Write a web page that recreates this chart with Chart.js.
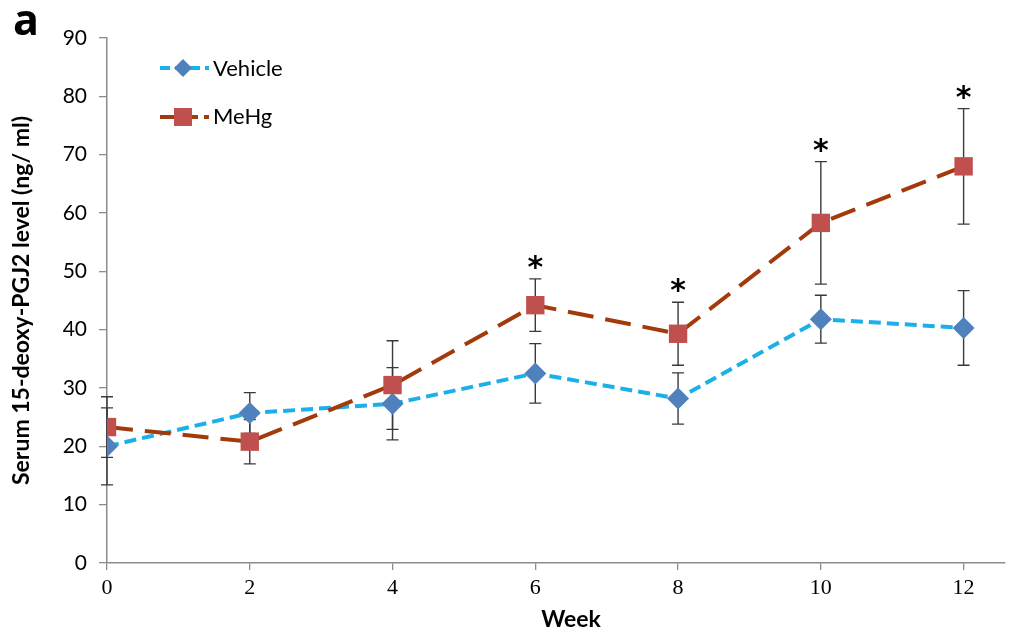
<!DOCTYPE html>
<html>
<head>
<meta charset="utf-8">
<script src="https://cdn.jsdelivr.net/npm/chart.js@4.4.1/dist/chart.umd.min.js"></script>
<style>
html, body { margin: 0; padding: 0; background: #fff; }
</style>
</head>
<body>
<canvas id="weekChart" width="1022" height="639"></canvas>
<script>
// data
const weeks = [0, 2, 4, 6, 8, 10, 12];
const vehicle = [20.0, 25.7, 27.3, 32.5, 28.2, 41.8, 40.3];
const vehicleErr = [6.6, 3.5, 6.2, 5.1, 4.4, 4.1, 6.4];
const mehg = [23.3, 20.8, 30.5, 44.2, 39.3, 58.3, 68.0];
const mehgErr = [5.2, 3.8, 7.6, 4.5, 5.4, 10.5, 9.9];
const starred = [false, false, false, true, true, true, true];
const xTicks = [0, 2, 4, 6, 8, 10, 12];
const yTicks = [0, 10, 20, 30, 40, 50, 60, 70, 80, 90];

const BLUE_LINE = '#1cb0e8';
const BLUE_MARK = '#4f81bd';
const RED_LINE = '#a33a0c';
const RED_MARK = '#c0504d';
const FONT = 'Lato, "Open Sans", sans-serif';

function drawDiamond(ctx, x, y, r) {
	ctx.beginPath();
	ctx.moveTo(x, y - r);
	ctx.lineTo(x + r, y);
	ctx.lineTo(x, y + r);
	ctx.lineTo(x - r, y);
	ctx.closePath();
	ctx.fill();
}

// error bars + asterisks + legend
const errorBars = {
	id: 'errorBars',
	beforeDatasetsDraw(chart) {
		const { ctx, scales: { x, y } } = chart;
		ctx.save();
		ctx.strokeStyle = '#3a3a3a';
		ctx.lineWidth = 1.4;
		[[vehicle, vehicleErr], [mehg, mehgErr]].forEach(([vals, errs]) => {
			vals.forEach((v, i) => {
				const px = x.getPixelForValue(weeks[i]);
				const top = y.getPixelForValue(v + errs[i]);
				const bot = y.getPixelForValue(v - errs[i]);
				ctx.beginPath();
				ctx.moveTo(px, top);
				ctx.lineTo(px, bot);
				ctx.moveTo(px - 6, top);
				ctx.lineTo(px + 6, top);
				ctx.moveTo(px - 6, bot);
				ctx.lineTo(px + 6, bot);
				ctx.stroke();
			});
		});
		ctx.restore();
	},
	afterDatasetsDraw(chart) {
		const { ctx, scales: { x, y } } = chart;
		ctx.save();
		ctx.fillStyle = '#000';
		ctx.font = 'bold 30px "DejaVu Sans"';
		ctx.textAlign = 'center';
		ctx.textBaseline = 'alphabetic';
		mehg.forEach((v, i) => {
			if (!starred[i]) return;
			const px = x.getPixelForValue(weeks[i]);
			const top = y.getPixelForValue(v + mehgErr[i]);
			ctx.fillText('*', px, top - 2);
		});
		ctx.restore();
	},
	afterDraw(chart) {
		const ctx = chart.ctx;
		ctx.save();
		// panel letter
		ctx.fillStyle = '#000';
		ctx.font = 'bold 43px "Open Sans", sans-serif';
		ctx.textBaseline = 'alphabetic';
		ctx.textAlign = 'left';
		ctx.fillText('a', 13, 35);

		// x axis title (sits a bit right of centre in the original)
		ctx.font = 'bold 23px ' + FONT;
		ctx.textAlign = 'center';
		ctx.textBaseline = 'middle';
		ctx.fillText('Week', 571, 620);
		ctx.textAlign = 'left';

		// legend
		ctx.lineWidth = 4;
		ctx.strokeStyle = BLUE_LINE;
		ctx.setLineDash([10, 5]);
		ctx.beginPath();
		ctx.moveTo(160, 68);
		ctx.lineTo(209, 68);
		ctx.stroke();
		ctx.fillStyle = BLUE_MARK;
		drawDiamond(ctx, 183, 68, 9);

		ctx.strokeStyle = RED_LINE;
		ctx.setLineDash([16, 6]);
		ctx.beginPath();
		ctx.moveTo(160, 117);
		ctx.lineTo(209, 117);
		ctx.stroke();
		ctx.fillStyle = RED_MARK;
		ctx.fillRect(174, 108, 18, 18);

		ctx.setLineDash([]);
		ctx.fillStyle = '#000';
		ctx.font = '22px ' + FONT;
		ctx.textBaseline = 'middle';
		ctx.fillText('Vehicle', 213, 69);
		ctx.fillText('MeHg', 213, 117);
		ctx.restore();
	}
};

const ctx = document.getElementById('weekChart').getContext('2d');

const weekChart = new Chart(ctx, {
	type    : 'line',
	data    : {
		datasets : [
			{
				label            : 'Vehicle',
				data             : weeks.map((w, i) => ({ x: w, y: vehicle[i] })),
				borderColor      : BLUE_LINE,
				borderWidth      : 4,
				borderDash       : [12, 6],
				backgroundColor  : BLUE_MARK,
				pointStyle       : 'rectRot',
				pointRadius      : 11,
				pointBorderColor : BLUE_MARK,
				pointBorderWidth : 0,
				tension          : 0,
				order            : 2
			},
			{
				label            : 'MeHg',
				data             : weeks.map((w, i) => ({ x: w, y: mehg[i] })),
				borderColor      : RED_LINE,
				borderWidth      : 4,
				borderDash       : [26, 12],
				backgroundColor  : RED_MARK,
				pointStyle       : 'rect',
				pointRadius      : 13,
				pointBorderColor : RED_MARK,
				pointBorderWidth : 0,
				tension          : 0,
				order            : 1
			}
		]
	},
	options : {
		responsive : false,
		animation  : false,
		layout     : { padding: { top: 38, right: 17, left: 0, bottom: 0 } },
		plugins    : {
			legend  : { display: false },
			tooltip : { enabled: false }
		},
		scales     : {
			x : {
				type   : 'linear',
				min    : 0,
				max    : 12.58,
				afterFit(scale) { scale.height = 76; },
				afterBuildTicks(scale) { scale.ticks = xTicks.map(v => ({ value: v })); },
				ticks  : {
					color   : '#000',
					padding : 5,
					font    : { family: '"Liberation Serif", serif', size: 22 }
				},
				grid   : { drawOnChartArea: false, tickLength: 7, color: '#8c8c8c', lineWidth: 1.3 },
				border : { color: '#8c8c8c', width: 1.5 },
				title  : { display: false }
			},
			y : {
				min    : 0,
				max    : 90,
				afterFit(scale) { scale.width = 107; },
				afterBuildTicks(scale) { scale.ticks = yTicks.map(v => ({ value: v })); },
				ticks  : {
					color   : '#000',
					padding : 12,
					font    : { family: FONT, size: 21 }
				},
				grid   : { drawOnChartArea: false, tickLength: 8, color: '#8c8c8c', lineWidth: 1.3 },
				border : { color: '#8c8c8c', width: 1.5 },
				title  : {
					display : true,
					text    : 'Serum 15-deoxy-PGJ2 level (ng/ ml)',
					color   : '#000',
					padding : { top: 8, bottom: 0 },
					font    : { family: FONT, size: 23, weight: 'bold' }
				}
			}
		}
	},
	plugins : [errorBars]
});
</script>
</body>
</html>
